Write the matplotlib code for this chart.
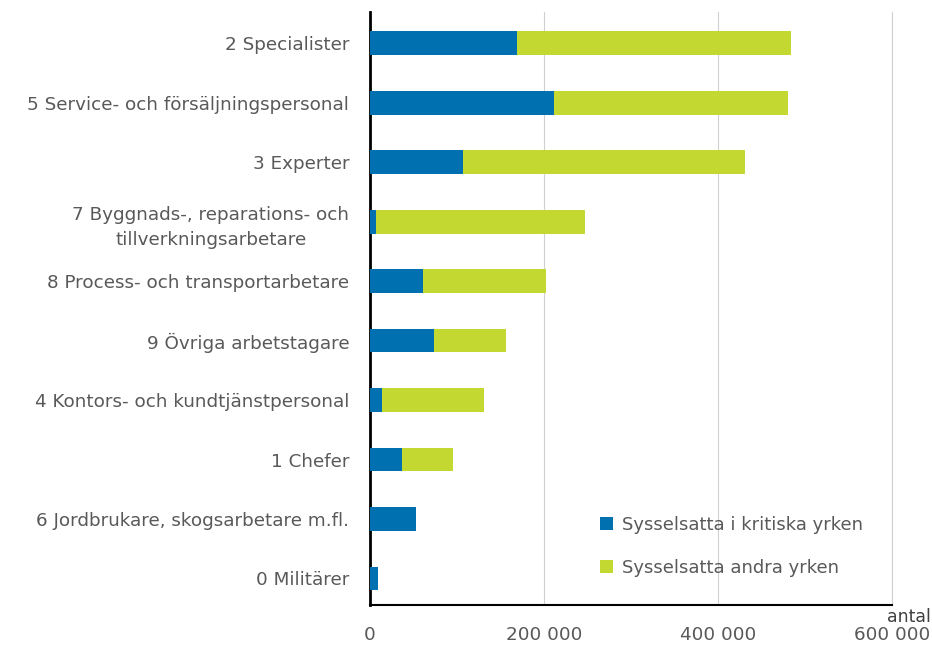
import matplotlib
matplotlib.use("Agg")
import matplotlib.pyplot as plt
from matplotlib.ticker import FuncFormatter
import numpy as np

categories = [
    "2 Specialister",
    "5 Service- och försäljningspersonal",
    "3 Experter",
    "7 Byggnads-, reparations- och\ntillverkningsarbetare",
    "8 Process- och transportarbetare",
    "9 Övriga arbetstagare",
    "4 Kontors- och kundtjänstpersonal",
    "1 Chefer",
    "6 Jordbrukare, skogsarbetare m.fl.",
    "0 Militärer",
]
kritiska = [169000, 211000, 107000, 7000, 61000, 74000, 14000, 37000, 53000, 9000]
andra = [315000, 269000, 324000, 240000, 141000, 82000, 117000, 58000, 0, 0]
series_names = ["Sysselsatta i kritiska yrken", "Sysselsatta andra yrken"]
xticks = [0, 200000, 400000, 600000]

plt.rcParams['font.family'] = ['DejaVu Sans']

fig = plt.figure(figsize=(9.32, 6.48), dpi=100)
ax = fig.add_axes([0.397, 0.066, 0.560, 0.915])

y = np.arange(len(categories))
blue = '#0070B0'
green = '#C3D831'
h = 0.4
ax.barh(y, kritiska, height=h, color=blue, label=series_names[0], zorder=3)
ax.barh(y, andra, left=kritiska, height=h, color=green, label=series_names[1], zorder=3)

ax.set_ylim(len(categories) - 1 + 0.45, -0.52)
ax.set_xlim(0, xticks[-1])
ax.set_xticks(xticks)
ax.xaxis.set_major_formatter(FuncFormatter(lambda v, p: f"{int(v):,}".replace(",", " ")))
ax.set_yticks(y)
ax.set_yticklabels(categories, multialignment='center', linespacing=1.5)

ax.grid(axis='x', color='#D0D0D0', linewidth=0.8, zorder=0)
ax.axvline(xticks[-1], color='#D0D0D0', linewidth=0.8, zorder=0, clip_on=False)
for s in ['top', 'right']:
    ax.spines[s].set_visible(False)
ax.spines['left'].set_linewidth(2.0)
ax.spines['left'].set_color('black')
ax.spines['bottom'].set_linewidth(1.5)
ax.spines['bottom'].set_color('black')

ax.tick_params(axis='both', length=0, labelsize=13.2, colors='#595959')
ax.tick_params(axis='x', pad=15)
ax.tick_params(axis='y', pad=15)

ax.text(1.075, -0.005, "antal", transform=ax.transAxes, ha='right', va='top',
        fontsize=12.5, color='#404040')

leg = ax.legend(loc='lower right', bbox_to_anchor=(0.975, 0.02), frameon=False,
                fontsize=13, handlelength=0.7, handleheight=0.7, labelspacing=1.4,
                handletextpad=0.5, labelcolor='#595959')

fig.savefig("out.png", dpi=100)
